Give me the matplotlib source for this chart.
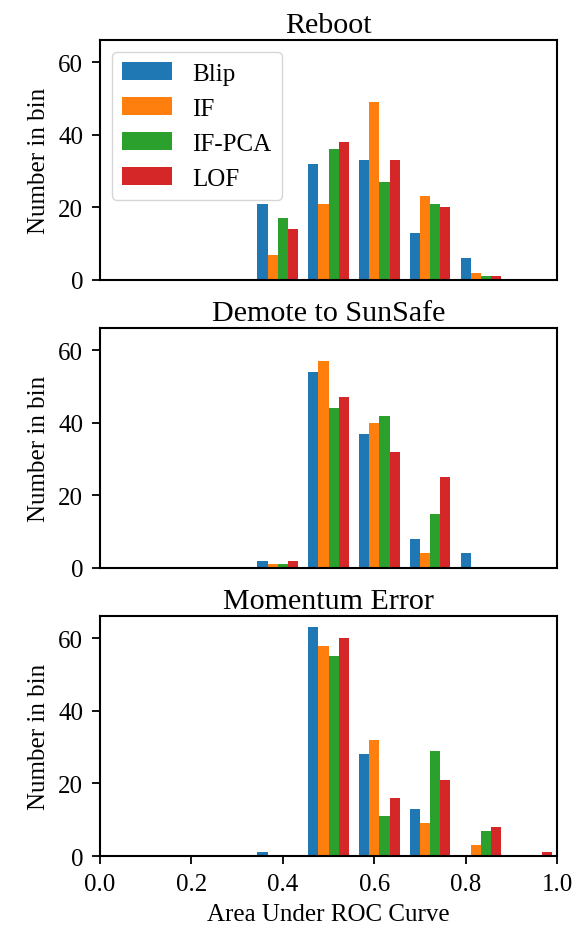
import numpy as np
import matplotlib
matplotlib.use("Agg")
import matplotlib.pyplot as plt

plt.rcParams['font.family'] = ['Liberation Serif', 'DejaVu Serif']
plt.rcParams['font.size'] = 18

# Histogram bins (AUC from 0 to 1, 9 bins)
bin_edges = np.linspace(0, 1, 10)
bin_centers = (bin_edges[:-1] + bin_edges[1:]) / 2

methods = ["Blip", "IF", "IF-PCA", "LOF"]
titles = ["Reboot", "Demote to SunSafe", "Momentum Error"]

# counts per bin, for each method
reboot_blip = [0, 0, 0, 21, 32, 33, 13, 6, 0]
reboot_if = [0, 0, 0, 7, 21, 49, 23, 2, 0]
reboot_ifpca = [0, 0, 0, 17, 36, 27, 21, 1, 0]
reboot_lof = [0, 0, 0, 14, 38, 33, 20, 1, 0]

demote_blip = [0, 0, 0, 2, 54, 37, 8, 4, 0]
demote_if = [0, 0, 0, 1, 57, 40, 4, 0, 0]
demote_ifpca = [0, 0, 0, 1, 44, 42, 15, 0, 0]
demote_lof = [0, 0, 0, 2, 47, 32, 25, 0, 0]

momentum_blip = [0, 0, 0, 1, 63, 28, 13, 0, 0]
momentum_if = [0, 0, 0, 0, 58, 32, 9, 3, 0]
momentum_ifpca = [0, 0, 0, 0, 55, 11, 29, 7, 0]
momentum_lof = [0, 0, 0, 0, 60, 16, 21, 8, 1]

all_counts = [
    [reboot_blip, reboot_if, reboot_ifpca, reboot_lof],
    [demote_blip, demote_if, demote_ifpca, demote_lof],
    [momentum_blip, momentum_if, momentum_ifpca, momentum_lof],
]

fig, axes = plt.subplots(3, 1, figsize=(5.81, 9.29), dpi=100,
                         sharex=True, sharey=True)
fig.subplots_adjust(left=0.172, right=0.959, top=0.956, bottom=0.0775,
                    hspace=0.2)

for ax, title, counts in zip(axes, titles, all_counts):
    ax.hist([bin_centers] * len(methods), bins=bin_edges,
            weights=counts, label=methods)
    ax.set_title(title)
    ax.set_ylabel("Number in bin", labelpad=6)
    for spine in ax.spines.values():
        spine.set_linewidth(1.5)
    ax.tick_params(width=1.3, length=6, pad=6)

# only the bottom panel keeps x ticks
for ax in axes[:-1]:
    ax.tick_params(axis='x', bottom=False, labelbottom=False)

axes[0].set_xlim(0, 1)
axes[0].legend(loc="upper left")
axes[-1].set_xlabel("Area Under ROC Curve", labelpad=6)

fig.savefig("out.png", dpi=100)
